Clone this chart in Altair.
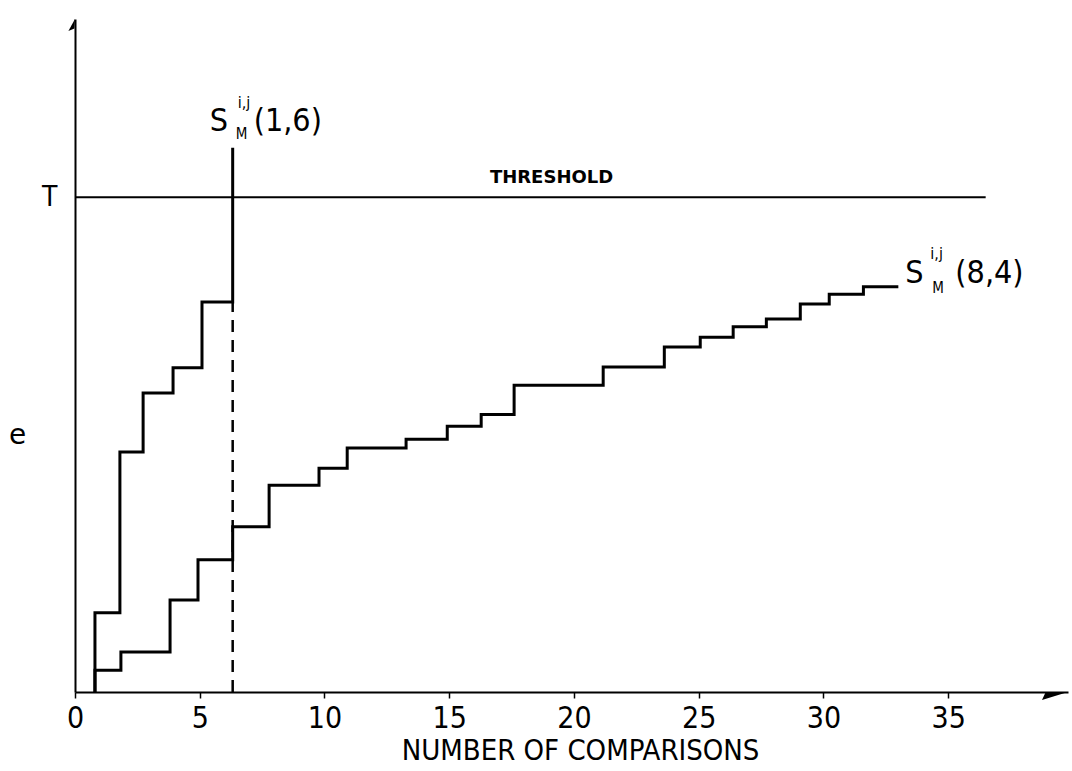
import altair as alt
import pandas as pd

# Cumulative error steps for the two sequences
c1_x = [0.80, 0.80, 1.80, 2.73, 3.93, 5.09, 6.32]
c1_y = [0.00, 1.60, 4.85, 6.04, 6.55, 7.88, 11.00]

c2_x = [0.80, 0.80, 1.84, 3.81, 4.93, 6.32, 7.78, 9.78, 10.91, 13.27, 14.92,
        16.28, 17.60, 21.17, 23.62, 25.06, 26.38, 27.71, 29.07, 30.23, 31.60, 33.00]
c2_y = [0.00, 0.44, 0.81, 1.86, 2.67, 3.34, 4.18, 4.52, 4.93, 5.11, 5.37,
        5.61, 6.20, 6.57, 6.97, 7.17, 7.38, 7.54, 7.84, 8.04, 8.19, 8.19]

threshold = 10.0
threshold_end = 36.5
threshold_label_x = 19.1
stop_x = 6.32          # comparison at which S(1,6) crosses the threshold
stop_level = 7.88

x_ticks = [0, 5, 10, 15, 20, 25, 30, 35]
x_max = 39.8
y_max = 13.6

FONT = "Liberation Sans Narrow, DejaVu Sans Condensed, sans-serif"

rows = []
for name, xs, ys in (("S(1,6)", c1_x, c1_y), ("S(8,4)", c2_x, c2_y)):
    for i, (a, b) in enumerate(zip(xs, ys)):
        rows.append({"series": name, "idx": i, "x": a, "y": b})
steps = pd.DataFrame(rows)

xs = alt.Scale(domain=[0, x_max], nice=False, zero=False)
ys = alt.Scale(domain=[0, y_max], nice=False, zero=False)

x_axis = alt.Axis(values=x_ticks, title="NUMBER OF COMPARISONS", grid=False,
                  domainColor="black", domainWidth=2, tickColor="black",
                  tickWidth=1.5, tickSize=6, labelPadding=5, labelFont=FONT,
                  labelFontSize=30, labelColor="black", labelFlush=False,
                  labelOverlap=False, titleFont=FONT,
                  titleFontSize=29, titleFontWeight="normal", titleColor="black",
                  titleX=505, titleY=44, titleBaseline="top")
y_axis = alt.Axis(values=[threshold], labelExpr="'T'", grid=False, ticks=False,
                  domainColor="black", domainWidth=2, labelPadding=18,
                  labelFont=FONT, labelFontSize=28, labelColor="black",
                  title="e", titleAngle=0, titleFont="DejaVu Sans",
                  titleFontSize=28, titleFontWeight="normal", titleColor="black",
                  titleX=-58, titleY=416, titleAlign="center",
                  titleBaseline="middle")

lines = alt.Chart(steps).mark_line(interpolate="step-after", color="black",
                                   strokeWidth=3).encode(
    x=alt.X("x:Q", scale=xs, axis=x_axis),
    y=alt.Y("y:Q", scale=ys, axis=y_axis),
    detail="series:N",
    order="idx:Q",
)

thr_df = pd.DataFrame({"x": [0.0], "x2": [threshold_end], "y": [threshold],
                       "lx": [threshold_label_x]})
thr = alt.Chart(thr_df).mark_rule(color="black", strokeWidth=2).encode(
    x=alt.X("x:Q", scale=xs), x2="x2:Q", y=alt.Y("y:Q", scale=ys))
thr_text = alt.Chart(thr_df).mark_text(
    text="THRESHOLD", font="DejaVu Sans", fontWeight="bold", fontSize=18,
    baseline="alphabetic", dy=-14, color="black", align="center"
).encode(x=alt.X("lx:Q", scale=xs), y=alt.Y("y:Q", scale=ys))

stop_df = pd.DataFrame({"x": [stop_x], "y": [0.0], "y2": [stop_level]})
stop = alt.Chart(stop_df).mark_rule(color="black", strokeWidth=2.5,
                                    strokeDash=[12, 8]).encode(
    x=alt.X("x:Q", scale=xs), y=alt.Y("y:Q", scale=ys), y2="y2:Q")


def series_label(px, py, pieces):
    df = pd.DataFrame({"x": [px], "y": [py]})
    layers = []
    for text, dx, dy, size in pieces:
        layers.append(alt.Chart(df).mark_text(
            text=text, font=FONT, fontSize=size, align="left",
            baseline="alphabetic", dx=dx, dy=dy, color="black"
        ).encode(x=alt.X("x:Q", scale=xs), y=alt.Y("y:Q", scale=ys)))
    return layers


lab1 = series_label(c1_x[-1], c1_y[-1], [
    ("S", -23, -17, 32), ("i,j", 5, -40, 16), ("M", 3, -9, 15),
    ("(1,6)", 21, -17, 32)])
lab2 = series_label(c2_x[-1], c2_y[-1], [
    ("S", 7, -4, 32), ("i,j", 32, -28, 16), ("M", 34, 6, 15),
    ("(8,4)", 57, -4, 32)])

arrow_df = pd.DataFrame({"x": [x_max, 0.0], "y": [0.0, y_max],
                         "kind": ["right", "up"]})
arrow_x = alt.Chart(arrow_df[arrow_df.kind == "right"]).mark_point(
    shape="M 0 0 L -2 0.62 L -1.75 0.08 Z", size=676, filled=True,
    color="black", opacity=1
).encode(x=alt.X("x:Q", scale=xs), y=alt.Y("y:Q", scale=ys))
arrow_y = alt.Chart(arrow_df[arrow_df.kind == "up"]).mark_point(
    shape="M 0 0 L -0.55 1 L -0.05 0.8 Z", size=576, filled=True,
    color="black", opacity=1
).encode(x=alt.X("x:Q", scale=xs), y=alt.Y("y:Q", scale=ys))

chart = alt.layer(thr, stop, lines, thr_text, *lab1, *lab2, arrow_x, arrow_y).properties(
    width=993, height=673,
    padding={"left": 75, "top": 19, "right": 4, "bottom": 79},
    autosize=alt.AutoSizeParams(type="none"),
    background="white",
).configure_view(stroke=None)

chart.save("out.html", embed_options={"renderer": "svg", "actions": False})
